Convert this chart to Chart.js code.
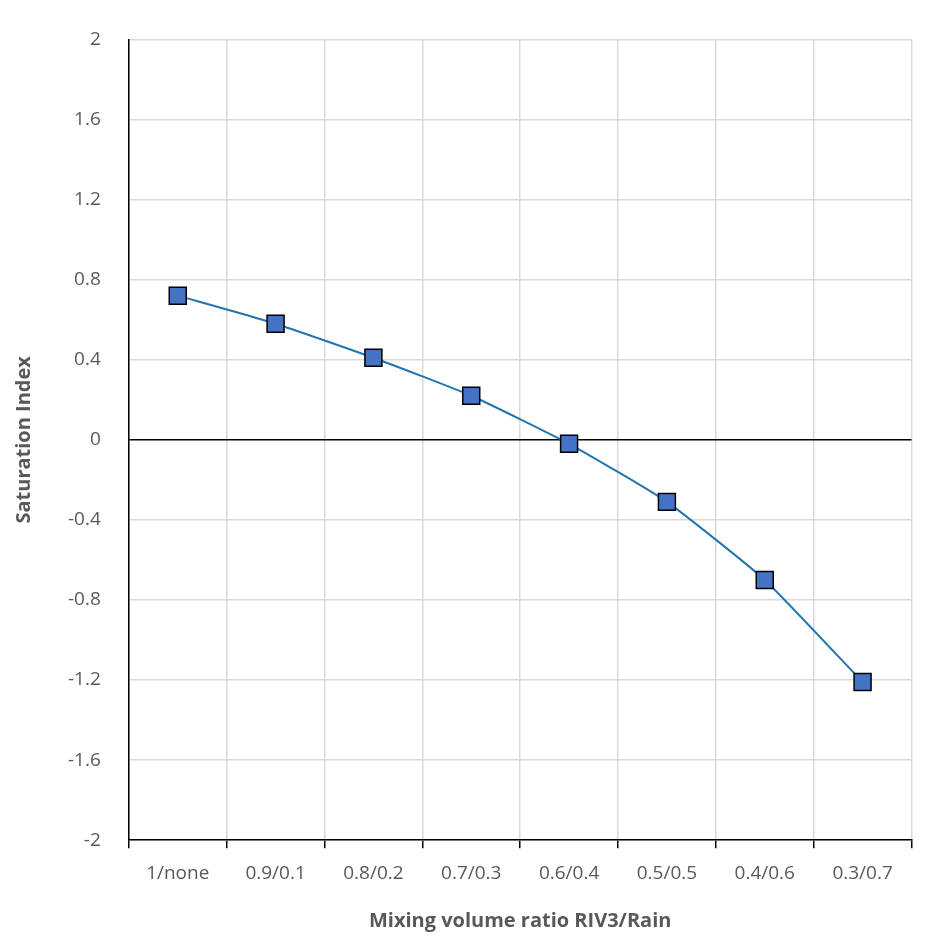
<!DOCTYPE html>
<html>
<head>
<meta charset="utf-8">
<script src="https://cdn.jsdelivr.net/npm/chart.js@4"></script>
<style>
  html, body { margin: 0; padding: 0; background: #fff; }
  #wrap { width: 925px; height: 943px; }
</style>
</head>
<body>
<div id="wrap"><canvas id="SIChart"></canvas></div>
<script>
var ratios = ['1/none', '0.9/0.1', '0.8/0.2', '0.7/0.3', '0.6/0.4', '0.5/0.5', '0.4/0.6', '0.3/0.7'];
var saturation = [0.72, 0.58, 0.41, 0.22, -0.02, -0.31, -0.70, -1.21];

var ctx = document.getElementById('SIChart');
var SIChart = new Chart(ctx, {
    type: 'line',
    data: {
        labels: ratios,
        datasets: [{
            data: saturation,
            borderColor: '#2176ae',
            borderWidth: 2,
            tension: 0.15,
            pointStyle: 'rect',
            pointRadius: 12,
            pointHoverRadius: 12,
            pointBackgroundColor: '#4472c4',
            pointBorderColor: '#000',
            pointBorderWidth: 1.5
        }]
    },
    options: {
        responsive: true,
        maintainAspectRatio: false,
        animation: false,
        layout: { padding: { top: 0, right: 8, left: 8, bottom: 6 } },
        plugins: { legend: { display: false }, tooltip: { enabled: false } },
        scales: {
            x: {
                offset: true,
                grid: { offset: true, color: '#d9d9d9', lineWidth: 1.5, tickLength: 8, tickColor: '#000' },
                border: { color: '#000', width: 1.5 },
                ticks: { color: '#595959', font: { family: 'Open Sans', size: 19 }, padding: 14 },
                title: { display: true, text: 'Mixing volume ratio RIV3/Rain', color: '#595959',
                         font: { family: 'Open Sans', size: 20, weight: 'bold' }, padding: { top: 10 } }
            },
            y: {
                min: -2,
                max: 2,
                ticks: {
                    stepSize: 0.4,
                    color: '#595959',
                    font: { family: 'Open Sans', size: 19 },
                    padding: 28,
                    callback: function (v) { return Math.round(v * 10) / 10; }
                },
                grid: {
                    drawTicks: false,
                    lineWidth: 1.5,
                    color: function (c) { return Math.abs(c.tick.value) < 1e-9 ? '#000' : '#d9d9d9'; }
                },
                border: { color: '#000', width: 1.5 },
                title: { display: true, text: 'Saturation Index', color: '#595959',
                         font: { family: 'Open Sans', size: 20, weight: 'bold' } }
            }
        }
    }
});
</script>
</body>
</html>
